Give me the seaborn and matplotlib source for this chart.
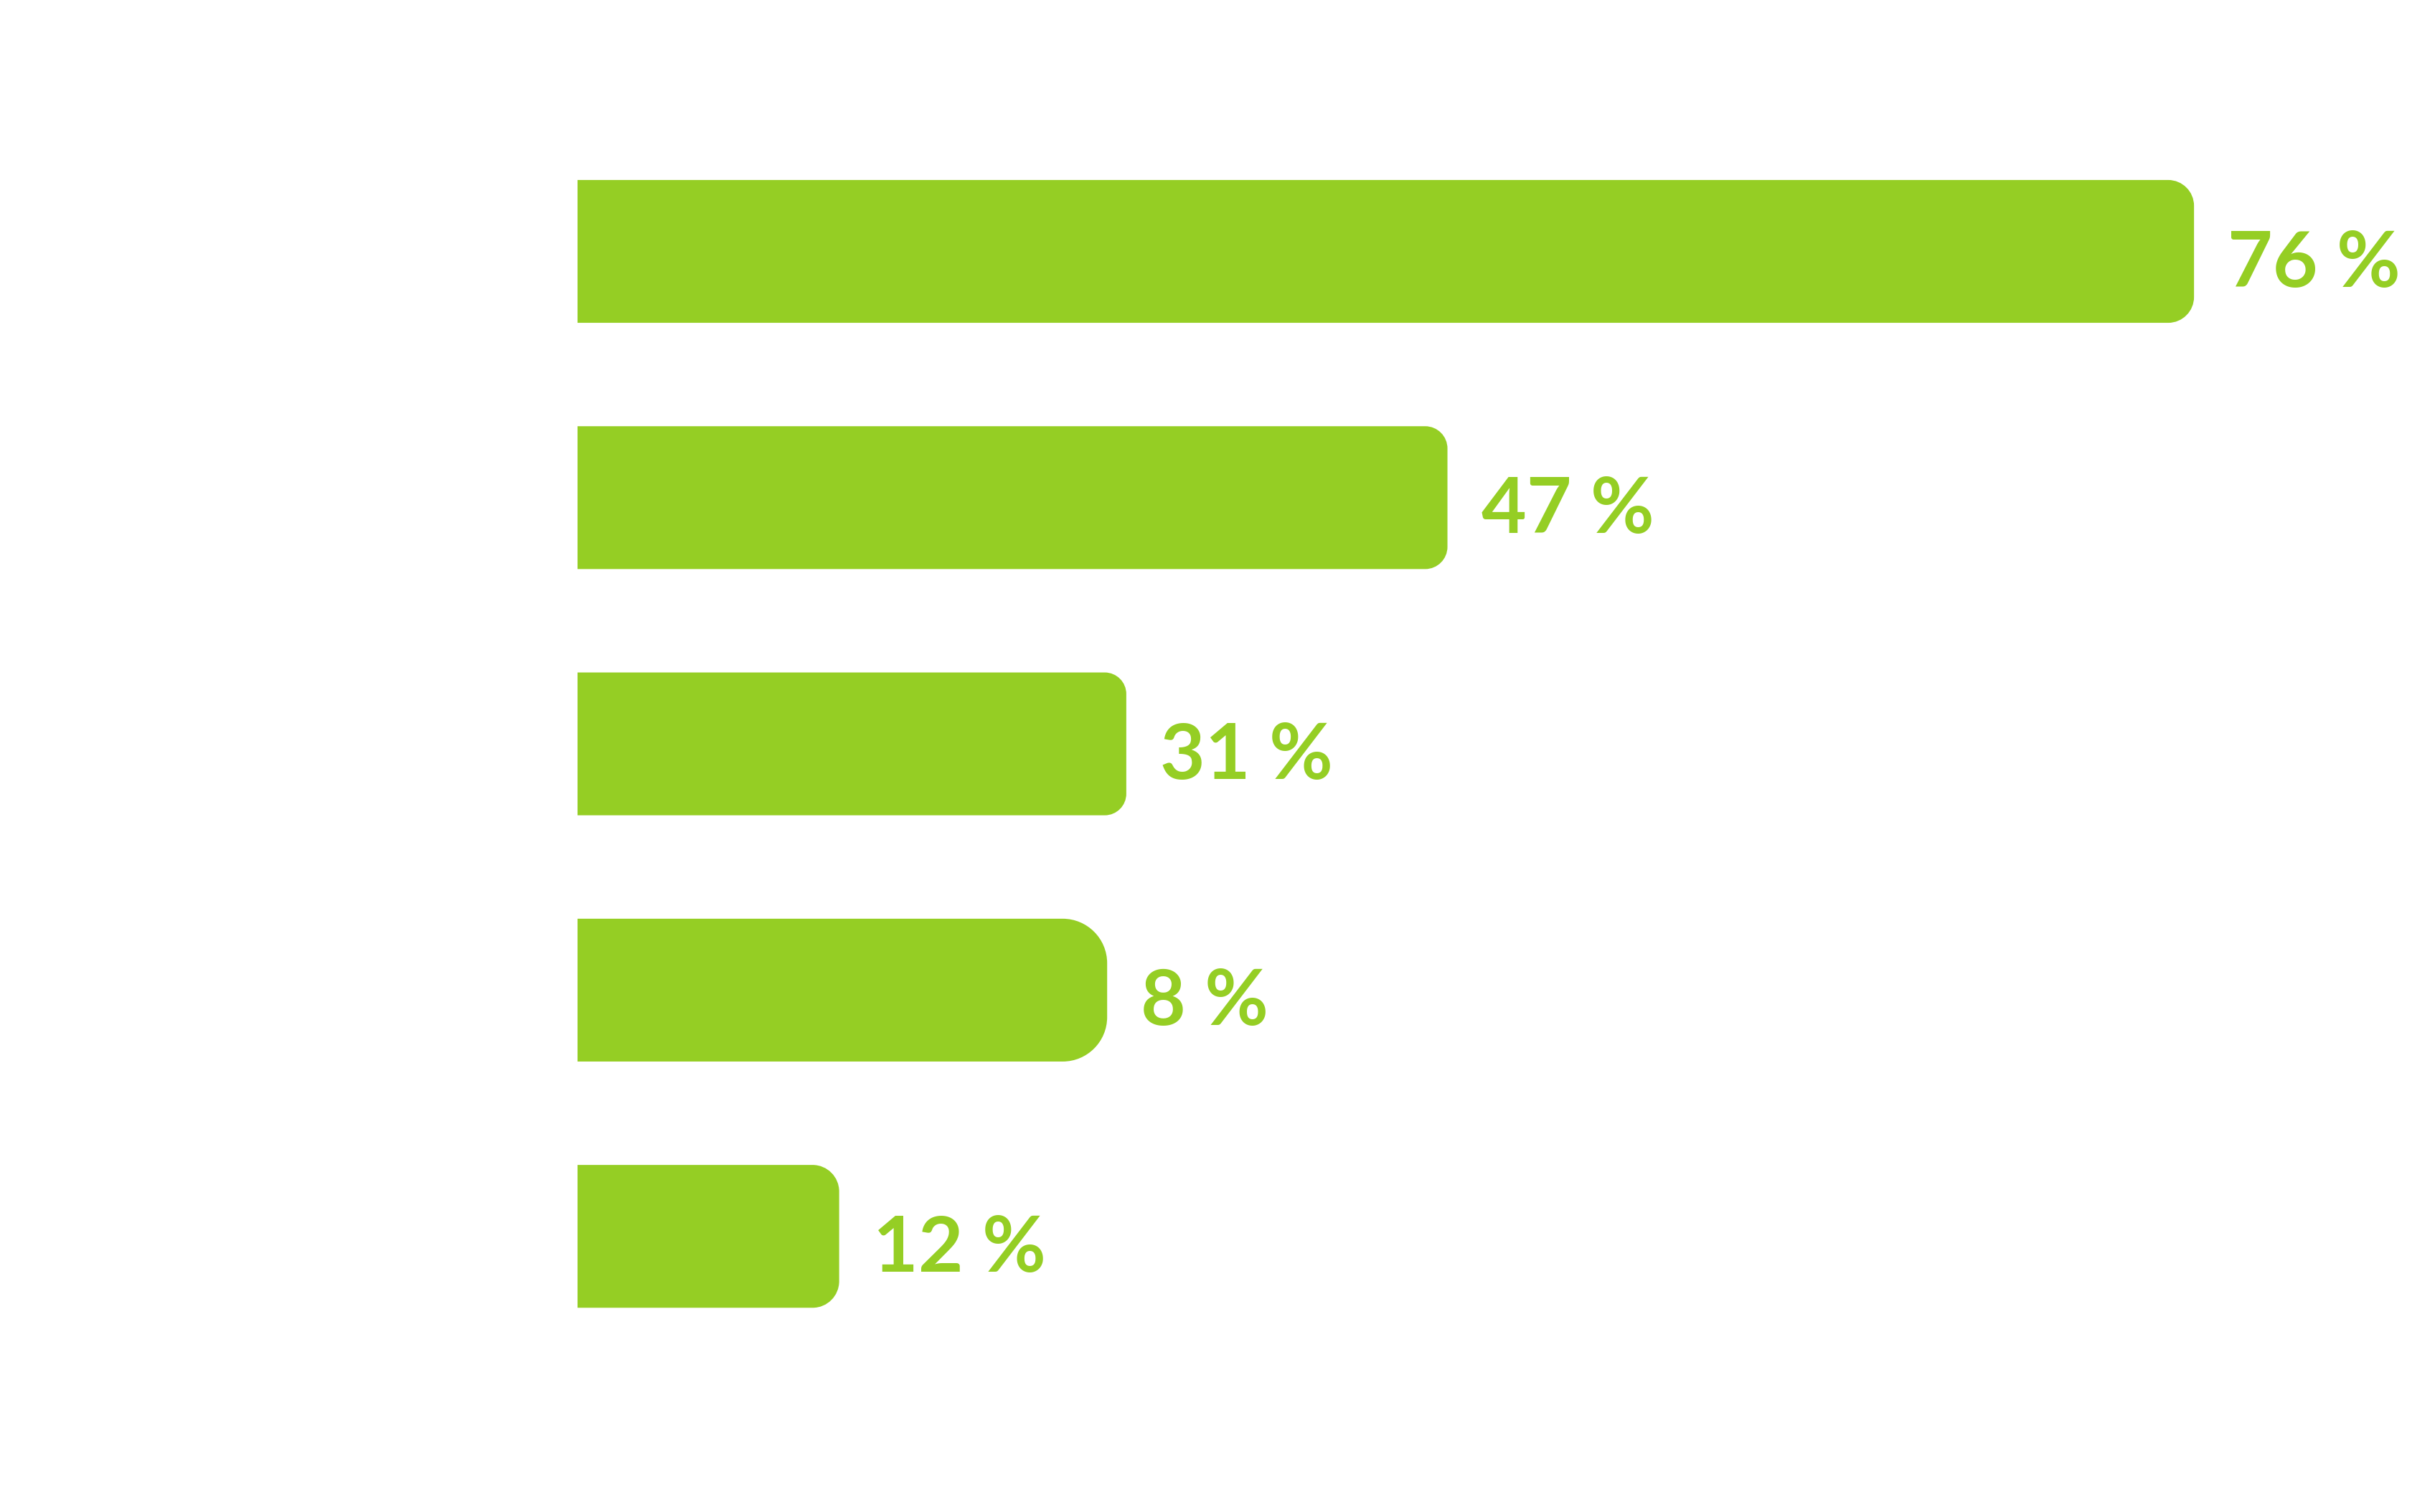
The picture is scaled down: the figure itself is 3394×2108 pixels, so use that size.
import matplotlib
matplotlib.use("Agg")
import matplotlib.pyplot as plt
from matplotlib.path import Path
from matplotlib.patches import PathPatch
import seaborn as sns
import pandas as pd

# bar lengths (in units of the top bar's 76)
items = ['A', 'B', 'C', 'D', 'E']
bar_lengths = [76, 40.9, 25.8, 24.9, 12.3]
labels = ['76 %', '47 %', '31 %', '8 %', '12 %']
corner_px = [36, 31, 30, 62, 37]  # corner radius of each bar, in pixels

GREEN = '#95CE24'
W, H, DPI = 3394, 2108, 200

sns.set_theme(style='white')
plt.rcParams['font.family'] = ['Lato', 'DejaVu Sans']

df = pd.DataFrame({'item': items, 'value': bar_lengths})

fig = plt.figure(figsize=(W / DPI, H / DPI), dpi=DPI)
left = 805 / W
ax = fig.add_axes([left, 0, 1 - left, 1])

sns.barplot(data=df, x='value', y='item', orient='h', color=GREEN,
            saturation=1, width=0.58, ax=ax)

# first bar centre about 350 px from the top, 343 px between bars
step = 343.3
y_top = -350.5 / step
y_bot = (H - 350.5) / step
xmax = 87.33
ax.set_xlim(0, xmax)
ax.set_ylim(y_bot, y_top)
ax.set_axis_off()

px_x = (W * (1 - left)) / xmax   # pixels per x unit
px_y = step                       # pixels per y unit
k = 0.5523

# swap the square bars for ones rounded on the right side
bars = list(ax.patches)
for bar, r in zip(bars, corner_px):
    x0, y0 = bar.get_x(), bar.get_y()
    x1, y1 = x0 + bar.get_width(), y0 + bar.get_height()
    rx, ry = r / px_x, r / px_y
    verts = [
        (x0, y0), (x1 - rx, y0),
        (x1 - rx + k * rx, y0), (x1, y0 + ry - k * ry), (x1, y0 + ry),
        (x1, y1 - ry),
        (x1, y1 - ry + k * ry), (x1 - rx + k * rx, y1), (x1 - rx, y1),
        (x0, y1), (x0, y0),
    ]
    codes = [Path.MOVETO, Path.LINETO,
             Path.CURVE4, Path.CURVE4, Path.CURVE4,
             Path.LINETO,
             Path.CURVE4, Path.CURVE4, Path.CURVE4,
             Path.LINETO, Path.CLOSEPOLY]
    bar.remove()
    ax.add_patch(PathPatch(Path(verts, codes), facecolor=GREEN, edgecolor='none'))

for i, (val, lab) in enumerate(zip(bar_lengths, labels)):
    ax.annotate(lab, xy=(val, i), xytext=(17, -6.5), textcoords='offset points',
                va='center', ha='left', fontsize=39, fontweight='bold', color=GREEN)

fig.savefig('out.png', dpi=DPI, facecolor='white')
